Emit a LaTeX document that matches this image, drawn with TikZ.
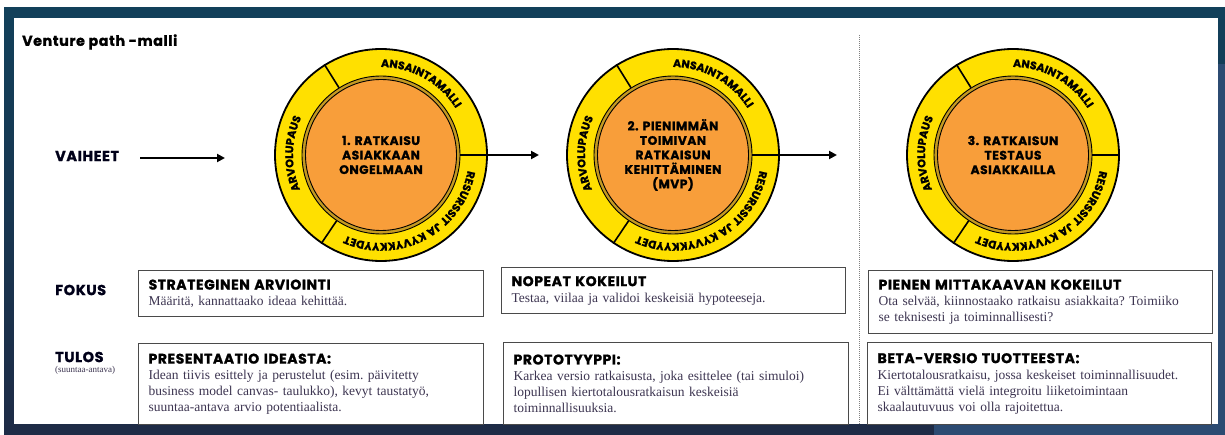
\documentclass[tikz,border=0pt]{standalone}
\usepackage{fontspec}
\setmainfont{Liberation Serif}
\newfontfamily\pop{Poppins}[BoldFeatures={FakeBold=1.2}, LetterSpace=4]
\usetikzlibrary{arrows.meta,decorations.text}
\definecolor{ringyellow}{HTML}{FFE000}
\definecolor{coreorange}{HTML}{F89E3A}
\definecolor{ochre}{HTML}{C49A22}
\definecolor{bgteal}{HTML}{12405A}
\definecolor{bgnavy}{HTML}{1E2B46}
\definecolor{bgblue}{HTML}{2C4B72}
\definecolor{bodytext}{HTML}{3D3551}
\definecolor{boxline}{HTML}{4A4A4A}
\newcommand\ringfont{\pop\bfseries\fontsize{11}{11}\selectfont}
\newcommand\corefont{\pop\bfseries\fontsize{12.3}{14.5}\selectfont}
\newcommand\bhead[1]{{\pop\bfseries\fontsize{14}{15}\selectfont\color{black}#1}}
\tikzset{
  outerring/.style={circle, draw=black, line width=1.8pt, fill=ringyellow, minimum size=212pt, inner sep=0pt},
  midring/.style={circle, draw=black, line width=0.9pt, fill=ochre, minimum size=158pt, inner sep=0pt},
  core/.style={circle, draw=black, line width=0.9pt, fill=coreorange, minimum size=151pt, inner sep=0pt, align=center, font=\corefont},
  divider/.style={draw=black, line width=1.6pt},
  arr/.style={draw=black, line width=2.2pt, -{Triangle[length=8pt,width=8pt]}},
  rowlabel/.style={anchor=west, inner sep=0pt, font=\pop\bfseries\fontsize{14.5}{16}\selectfont, text=black!90!blue},
  box/.style={draw=boxline, line width=1.2pt, fill=white, anchor=north west, align=left, inner xsep=10pt, inner ysep=0pt, font=\fontsize{13.5}{16}\selectfont\frenchspacing, text=bodytext},
  sep/.style={draw=black!50, line width=1pt, densely dotted}
}
\begin{document}
\begin{tikzpicture}[x=1pt,y=1pt]
\useasboundingbox (0,0) rectangle (1225,-435);
\fill[white] (0,0) rectangle (1225,-435);
\shade[top color=bgteal, bottom color=bgnavy] (4,-8) rectangle (1225,-435);
\fill[bgblue] (1218,-64) rectangle (1225,-435);
\fill[bgblue] (934,-424) rectangle (1225,-435);
\fill[white] (14,-18) rectangle (1218,-424);

% title
\node[anchor=west, inner sep=0pt, font=\pop\bfseries\fontsize{14.3}{17}\selectfont] (title) at (22,-42) {Venture path -malli};

% separator
\coordinate (sepT) at (859,-35);
\coordinate (sepB) at (859,-424);
\draw[sep] (sepT) -- (sepB);

% circles
\foreach \i/\x in {1/381,2/673,3/1013}{
  \node[outerring] (c\i) at (\x,-155) {};
  \node[midring] (r\i) at (\x,-155) {};
  \draw[divider] (r\i.122) -- (c\i.122);
  \draw[divider] (r\i.236) -- (c\i.236);
  \draw[divider] (r\i.0) -- (c\i.0);
  \path[decorate, decoration={text along path, text align=center, text={|\ringfont|ANSAINTAMALLI}}]
    ([shift={(122:88pt)}]c\i.center) arc[start angle=122, end angle=0, radius=88pt];
  \path[decorate, decoration={text along path, text align=center, text={|\ringfont|ARVOLUPAUS}}]
    ([shift={(236:88pt)}]c\i.center) arc[start angle=236, end angle=122, radius=88pt];
  \path[decorate, decoration={text along path, text align=center, text={|\ringfont|RESURSSIT JA KYVYKKYYDET}}]
    ([shift={(0:88pt)}]c\i.center) arc[start angle=0, end angle=-124, radius=88pt];
}
\node[core] (o1) at (381,-155) {1. RATKAISU\\ASIAKKAAN\\ONGELMAAN};
\node[core] (o2) at (673,-155) {2. PIENIMMÄN\\TOIMIVAN\\RATKAISUN\\KEHITTÄMINEN\\(MVP)};
\node[core] (o3) at (1013,-155) {3. RATKAISUN\\TESTAUS\\ASIAKKAILLA};

% row labels
\node[rowlabel] (vaiheet) at (55,-156) {VAIHEET};
\node[rowlabel] (fokus) at (55,-290) {FOKUS};
\node[rowlabel] (tulos) at (55,-357) {TULOS};
\node[anchor=west, inner sep=0pt, font=\fontsize{9}{10}\selectfont, text=bodytext] (tulosnote) at (55,-370) {(suuntaa-antava)};

% arrows
\coordinate (a1s) at (140,-158);
\coordinate (a1e) at (225,-158);
\coordinate (a2e) at (539,-155);
\coordinate (a3e) at (837,-155);
\draw[arr] (a1s) -- (a1e);
\draw[arr] (r1.east) -- (a2e);
\draw[arr] (r2.east) -- (a3e);

% focus boxes
\node[box, minimum width=345pt, minimum height=46pt, text width=325pt] (f1) at (138,-270)
  {\bhead{STRATEGINEN ARVIOINTI}\\Määritä, kannattaako ideaa kehittää.};
\node[box, minimum width=344pt, minimum height=46pt, text width=324pt] (f2) at (501,-267)
  {\bhead{NOPEAT KOKEILUT}\\Testaa, viilaa ja validoi keskeisiä hypoteeseja.};
\node[box, minimum width=344pt, minimum height=63pt, text width=324pt] (f3) at (868,-270)
  {\bhead{PIENEN MITTAKAAVAN KOKEILUT}\\Ota selvää, kiinnostaako ratkaisu asiakkaita? Toimiiko\\se teknisesti ja toiminnallisesti?};

% result boxes
\node[box, minimum width=345pt, minimum height=81pt, text width=325pt] (t1) at (138,-343)
  {\bhead{PRESENTAATIO IDEASTA:}\\Idean tiivis esittely ja perustelut (esim. päivitetty\\business model canvas- taulukko), kevyt taustatyö,\\suuntaa-antava arvio potentiaalista.};
\node[box, minimum width=345pt, minimum height=82pt, text width=325pt] (t2) at (503,-342)
  {\bhead{PROTOTYYPPI:}\\Karkea versio ratkaisusta, joka esittelee (tai simuloi)\\lopullisen kiertotalousratkaisun keskeisiä\\toiminnallisuuksia.};
\node[box, minimum width=344pt, minimum height=82pt, text width=324pt] (t3) at (867,-342)
  {\bhead{BETA-VERSIO TUOTTEESTA:}\\Kiertotalousratkaisu, jossa keskeiset toiminnallisuudet.\\Ei välttämättä vielä integroitu liiketoimintaan\\skaalautuvuus voi olla rajoitettua.};
\end{tikzpicture}
\end{document}
